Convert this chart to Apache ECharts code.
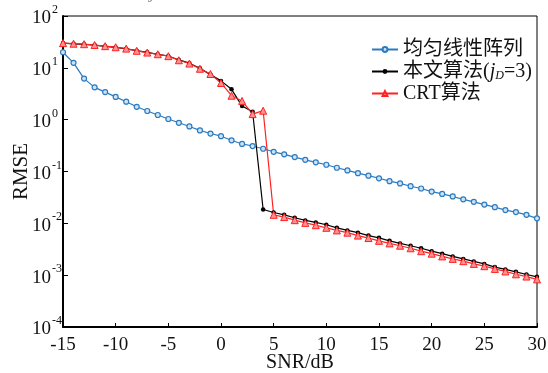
<!DOCTYPE html>
<html>
<head>
<meta charset="utf-8">
<script src="https://cdn.jsdelivr.net/npm/echarts@6/dist/echarts.min.js"></script>
<style>html,body{margin:0;padding:0;background:#fff}#c{width:548px;height:373px}</style>
</head>
<body>
<div id="c"></div>
<script>
var snr = [];
for (var s = -15; s <= 30; s++) snr.push(s);

var seriesNames = ['均匀线性阵列', '本文算法(jD=3)', 'CRT算法'];

var ulaRmse = [20, 12.5, 6.2, 4.2, 3.4, 2.75, 2.22, 1.77, 1.47, 1.23, 1.03, 0.87, 0.74, 0.62, 0.54, 0.48,
  0.40, 0.34, 0.31, 0.275, 0.240, 0.214, 0.190, 0.168, 0.150, 0.135, 0.118, 0.105, 0.093, 0.083,
  0.074, 0.065, 0.059, 0.052, 0.047, 0.041, 0.037, 0.033, 0.029, 0.026, 0.023, 0.0205, 0.018, 0.0165, 0.0146, 0.0125];

var proposedRmse = [30, 29, 28.4, 27.5, 26, 24.8, 23.3, 21.4, 19.9, 18.2, 16.9, 14.2, 12.3, 9.8, 7.4, 5.6,
  3.85, 1.83, 1.42, 0.0185, 0.0162, 0.0146, 0.0128, 0.0114, 0.0104, 0.0094, 0.0082, 0.0073, 0.0066, 0.0058,
  0.00525, 0.0046, 0.0041, 0.0037, 0.0033, 0.0029, 0.0026, 0.0023, 0.00206, 0.00184, 0.00165, 0.00143, 0.00129, 0.00116, 0.00103, 0.00093];

var crtRmse = [30, 29.2, 28.6, 27.6, 26.2, 25, 23.5, 21.3, 19.7, 18.3, 16.8, 14.0, 12.1, 9.6, 7.6, 5.1,
  2.9, 2.3, 1.28, 1.49, 0.0146, 0.0132, 0.0115, 0.0102, 0.0092, 0.0082, 0.0073, 0.0066, 0.0058, 0.0052,
  0.0046, 0.0041, 0.0037, 0.0033, 0.0029, 0.0026, 0.0023, 0.00206, 0.00186, 0.00165, 0.00149, 0.00132, 0.00118, 0.00104, 0.00094, 0.00083];

var yExponents = [-4, -3, -2, -1, 0, 1, 2];
var xTicks = [-15, -10, -5, 0, 5, 10, 15, 20, 25, 30];

function pairs(ys) { return snr.map(function (x, i) { return [x, ys[i]]; }); }

var FONT = "'Liberation Serif','Times New Roman','Noto Sans CJK SC',serif";
var chart = echarts.init(document.getElementById('c'), null, { renderer: 'canvas' });
chart.setOption({
  animation: false,
  backgroundColor: '#fff',
  textStyle: { fontFamily: FONT },
  grid: { left: 63, right: 11, top: 16, bottom: 46, show: true, borderColor: '#000', borderWidth: 1,
    containLabel: false, outerBoundsMode: 'none' },
  graphic: [{
    type: 'text', left: 150, top: -16,
    style: { text: '{i|j}{s|D}', fill: '#888', rich: {
      i: { fontFamily: FONT, fontStyle: 'italic', fontSize: 18, fill: '#888' },
      s: { fontFamily: FONT, fontStyle: 'italic', fontSize: 12, fill: '#888', padding: [8, 0, 0, 0] } } }
  }],
  legend: {
    orient: 'vertical', left: 366, top: 34, itemWidth: 26, itemHeight: 6, itemGap: 1,
    data: seriesNames,
    textStyle: { fontFamily: FONT, fontSize: 20, color: '#111', lineHeight: 21,
      rich: {
        n: { fontFamily: FONT, fontSize: 20, color: '#111', lineHeight: 21 },
        i: { fontFamily: FONT, fontSize: 20, fontStyle: 'italic', color: '#111', lineHeight: 21 },
        sub: { fontFamily: FONT, fontSize: 12, fontStyle: 'italic', color: '#111', padding: [8, 0, 0, 0], lineHeight: 21 }
      } },
    formatter: function (name) {
      if (name === seriesNames[1]) return '{n|本文算法(}{i|j}{sub|D}{n|=3)}';
      return '{n|' + name + '}';
    }
  },
  xAxis: {
    type: 'value', min: xTicks[0], max: xTicks[xTicks.length - 1], interval: 5,
    name: 'SNR/dB', nameLocation: 'middle', nameGap: 26, nameMoveOverlap: false,
    nameTextStyle: { fontFamily: FONT, fontSize: 20, color: '#111' },
    axisLine: { onZero: false, lineStyle: { color: '#000', width: 2 } },
    axisTick: { inside: true, length: 4, lineStyle: { color: '#000', width: 1 } },
    axisLabel: { fontFamily: FONT, fontSize: 19, color: '#111', margin: 9 },
    splitLine: { show: false }
  },
  yAxis: {
    type: 'log', logBase: 10, min: Math.pow(10, yExponents[0]), max: Math.pow(10, yExponents[yExponents.length - 1]),
    name: 'RMSE', nameLocation: 'middle', nameGap: 31, nameMoveOverlap: false,
    nameTextStyle: { fontFamily: FONT, fontSize: 21, color: '#111' },
    axisLine: { onZero: false, lineStyle: { color: '#000', width: 2 } },
    axisTick: { inside: true, length: 5, lineStyle: { color: '#000', width: 1 } },
    minorTick: { show: false },
    splitLine: { show: false },
    axisLabel: {
      align: 'left', margin: 31, color: '#111',
      formatter: function (v) {
        var e = Math.round(Math.log(v) / Math.LN10);
        if (yExponents.indexOf(e) < 0) return '';
        return '{b|10}{s|' + e + '}';
      },
      rich: {
        b: { fontFamily: FONT, fontSize: 19, color: '#111', padding: [5, 0, 0, 0] },
        s: { fontFamily: FONT, fontSize: 12, color: '#111', verticalAlign: 'top', padding: [0, 0, 9, 1] }
      }
    }
  },
  series: [
    { name: seriesNames[0], type: 'line', data: pairs(ulaRmse), symbol: 'circle', symbolSize: 5,
      lineStyle: { color: '#2b7bc0', width: 1.2 }, itemStyle: { color: '#cfe3f5', borderColor: '#2b7bc0', borderWidth: 1.2 } },
    { name: seriesNames[1], type: 'line', data: pairs(proposedRmse), symbol: 'circle', symbolSize: 4.5,
      lineStyle: { color: '#000', width: 1.2 }, itemStyle: { color: '#000', borderColor: '#000', borderWidth: 0 } },
    { name: seriesNames[2], type: 'line', data: pairs(crtRmse), symbol: 'triangle', symbolSize: 7,
      lineStyle: { color: '#ff2020', width: 1.2 }, itemStyle: { color: '#ff9090', borderColor: '#ff2020', borderWidth: 1 } }
  ]
});
</script>
</body>
</html>
